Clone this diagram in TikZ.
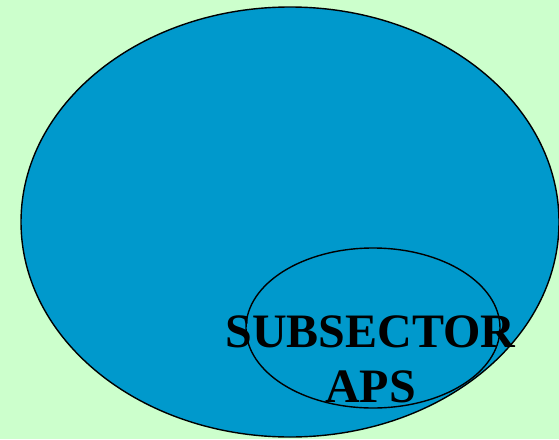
\documentclass[tikz,border=0pt]{standalone}
\usepackage{fontspec}
\setmainfont{Liberation Serif}
\definecolor{backdrop}{HTML}{CCFFCC}
\definecolor{sector}{HTML}{0099CC}

\begin{document}
\begin{tikzpicture}[x=1pt, y=-1pt,
  region/.style={draw=black, line width=1.4pt, fill=sector},
  subregion/.style={draw=black, line width=1.4pt},
  caption/.style={font=\fontsize{48}{55}\selectfont\bfseries, align=center, inner sep=0pt},
]
  \fill[backdrop] (0,0) rectangle (559,439);
  \useasboundingbox (0,0) rectangle (559,439);
  \draw[region] (290,222) ellipse [x radius=269, y radius=215];
  \draw[subregion] (373,328) ellipse [x radius=127, y radius=80];
  \node[caption, anchor=base] (subsector) at (370.5,402) {SUBSECTOR\\APS};
\end{tikzpicture}
\end{document}
